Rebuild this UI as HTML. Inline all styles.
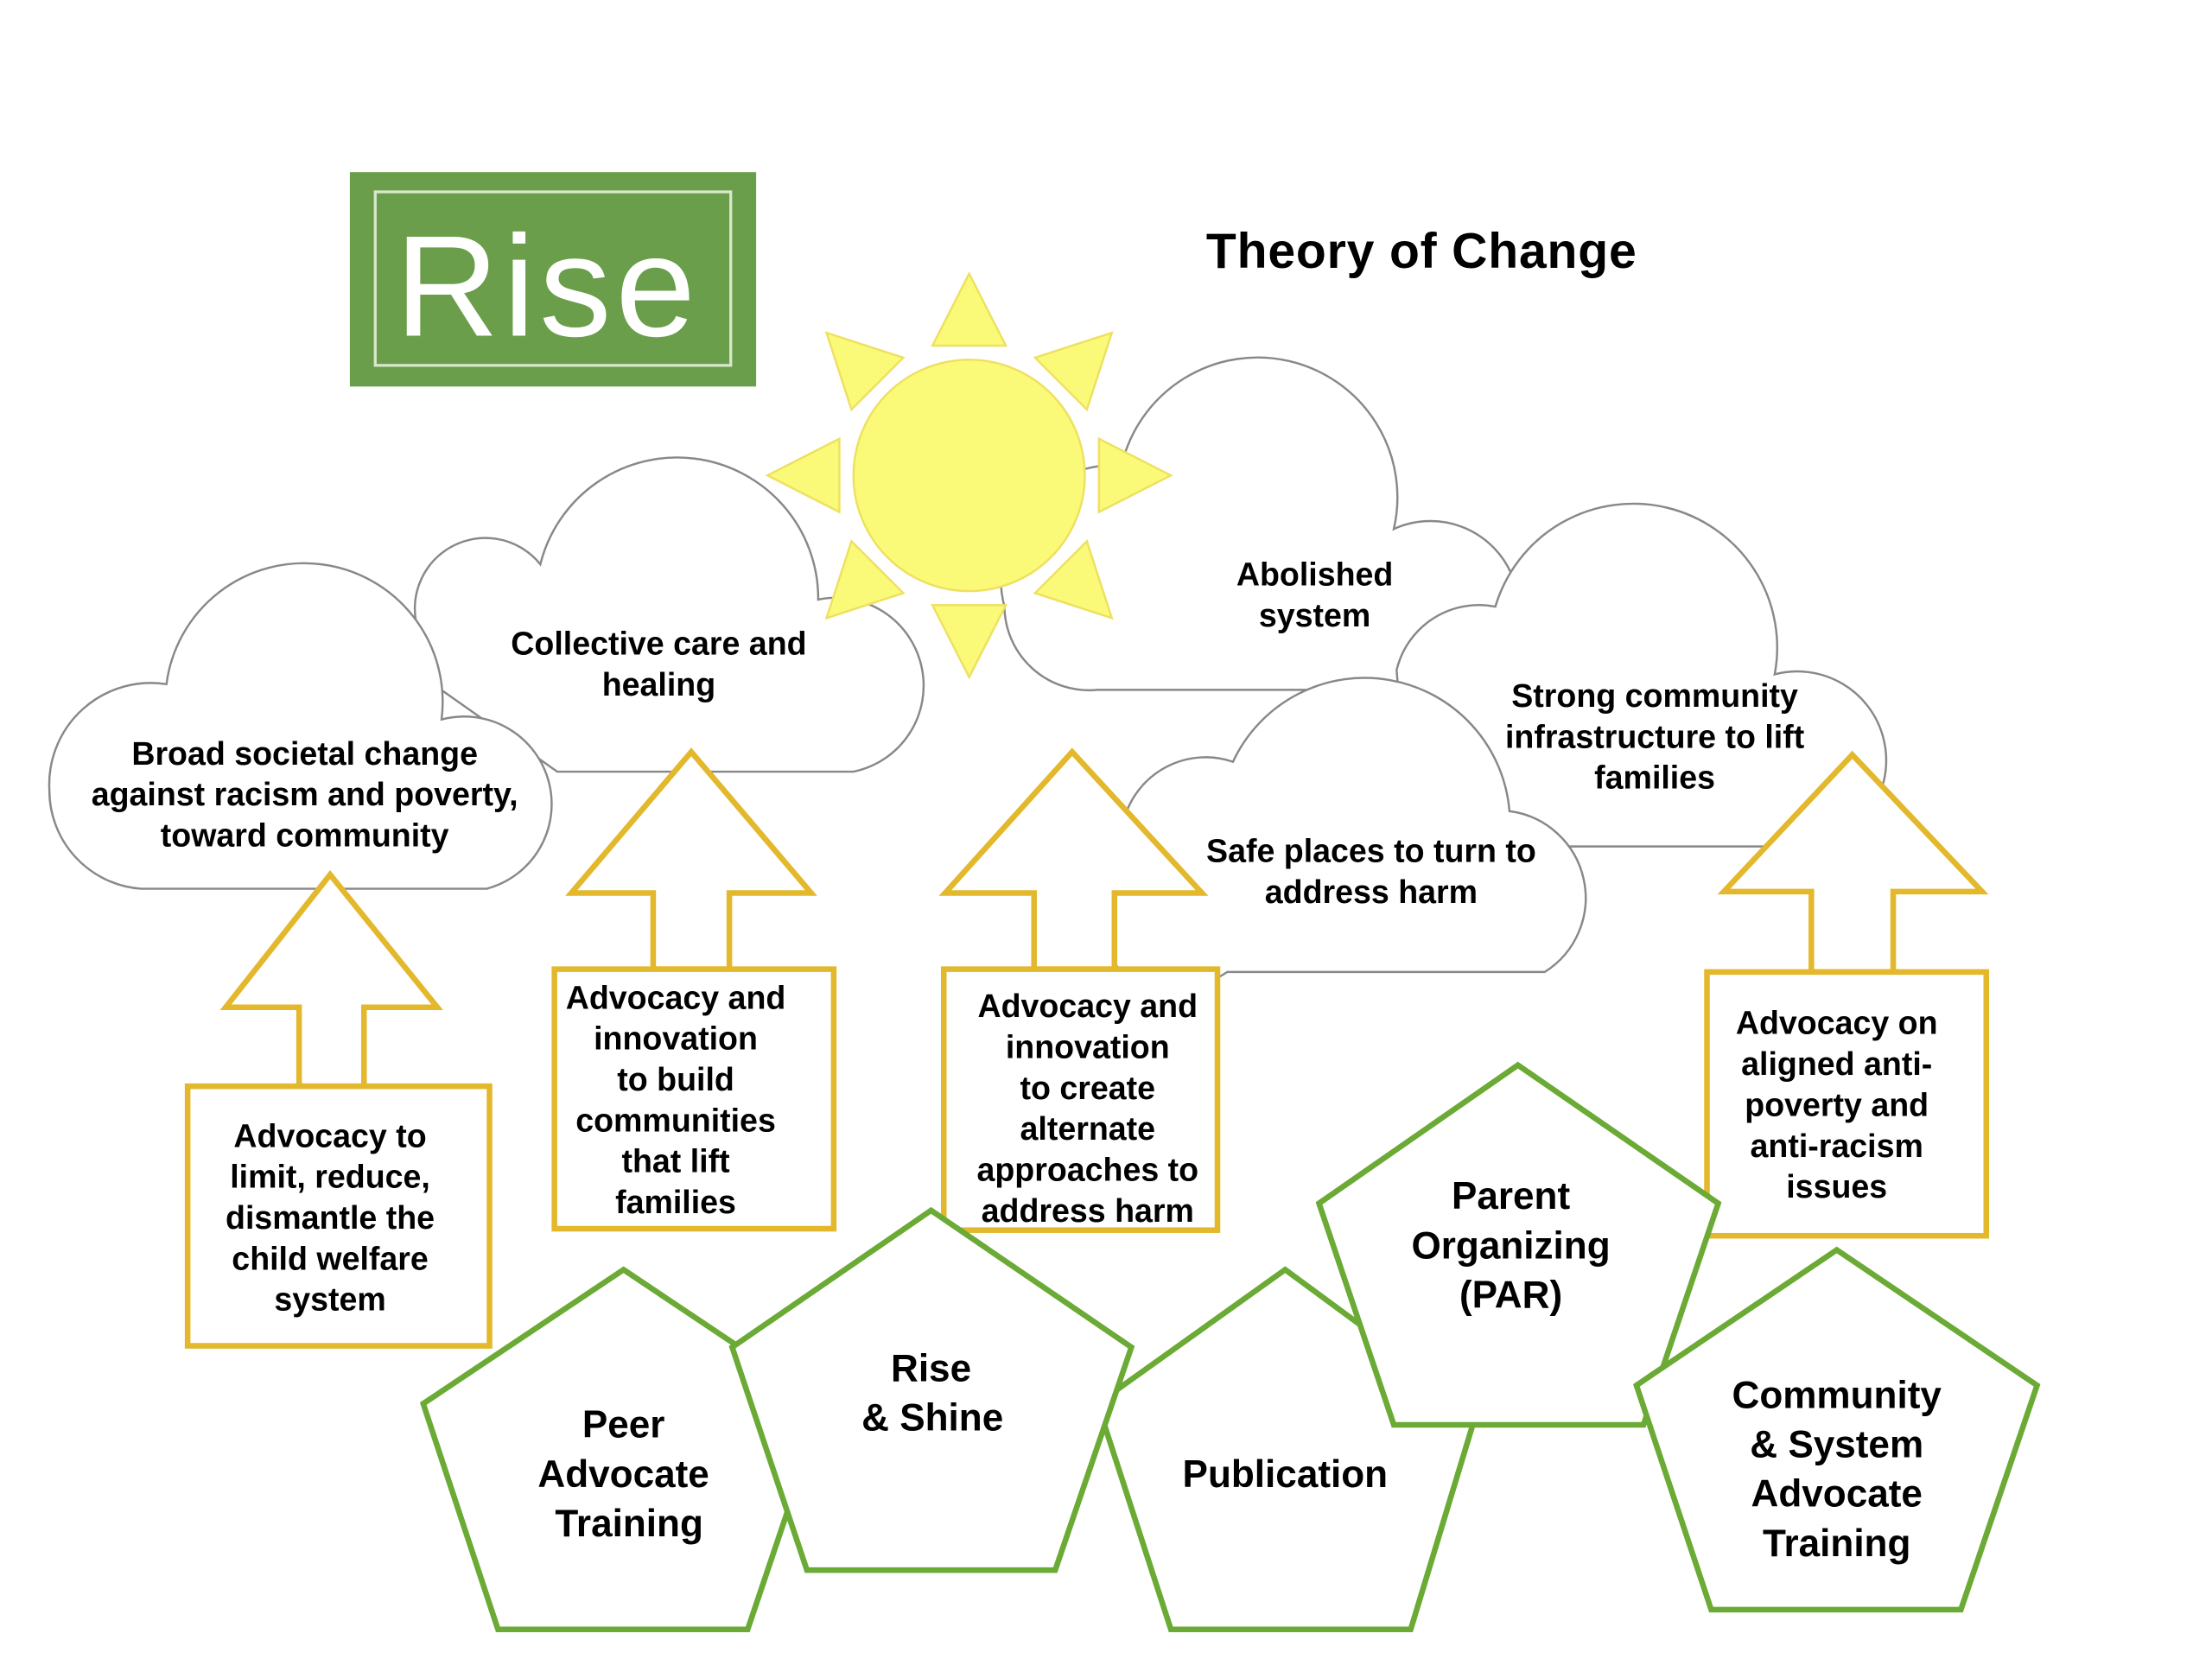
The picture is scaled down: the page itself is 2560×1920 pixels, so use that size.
<!DOCTYPE html>
<html><head><meta charset="utf-8"><style>html,body{margin:0;padding:0;background:#fff}svg{display:block}</style></head>
<body>
<svg width="2560" height="1920" viewBox="0 0 1568 1176" xmlns="http://www.w3.org/2000/svg" font-family="'Liberation Sans', sans-serif" font-weight="bold">
<rect width="1568" height="1176" fill="#fff"/>
<rect x="248" y="122" width="288" height="152" fill="#6a9e4b"/>
<rect x="266" y="136" width="252" height="123" fill="none" stroke="#d8e8cc" stroke-width="2"/>
<text x="280" y="238" font-size="102" font-weight="normal" fill="#fff" letter-spacing="3">Rise</text>
<text x="855" y="190" font-size="35" fill="#000" letter-spacing="0.5">Theory of Change</text>
<g fill="#fff" stroke="#888" stroke-width="1.5">
<path d="M395,547 L605,547 A60,60 0 0 0 580,425 A100,100 0 0 0 383,400 A50,50 0 0 0 300,455 L300,480 Z"/>
<path d="M778,489 L1040,489 A55,55 0 0 0 988,375 A97,97 0 0 0 795,330 A80,80 0 0 0 712,430 A60,60 0 0 0 778,489 Z"/>
<path d="M1150,600 L1290,600 A60,60 0 0 0 1258,478 A102,102 0 0 0 1060,430 A60,60 0 0 0 990,475 L1000,600 Z"/>
<path d="M870,689 L1095,689 A62,62 0 0 0 1070,575 A103,103 0 0 0 874,540 A60,60 0 0 0 797,580 A60,60 0 0 0 870,689 Z"/>
</g>
<g fill="#fafa78" stroke="#eee060" stroke-width="1.5">
<g transform="translate(687,337)">
<polygon points="0,-143 -26,-92 26,-92"/>
<polygon points="0,-143 -26,-92 26,-92" transform="rotate(45)"/>
<polygon points="0,-143 -26,-92 26,-92" transform="rotate(90)"/>
<polygon points="0,-143 -26,-92 26,-92" transform="rotate(135)"/>
<polygon points="0,-143 -26,-92 26,-92" transform="rotate(180)"/>
<polygon points="0,-143 -26,-92 26,-92" transform="rotate(225)"/>
<polygon points="0,-143 -26,-92 26,-92" transform="rotate(270)"/>
<polygon points="0,-143 -26,-92 26,-92" transform="rotate(315)"/>
<circle r="82"/>
</g></g>
<path d="M100,630 L345,630 A58,58 0 0 0 313,510 A98,98 0 0 0 118,485 A72,72 0 0 0 35,560 A70,70 0 0 0 100,630 Z" fill="#fff" stroke="#888" stroke-width="1.5"/>
<g font-size="23" fill="#000" text-anchor="middle">
<text x="216" y="542">Broad societal change</text>
<text x="216" y="571">against racism and poverty,</text>
<text x="216" y="600">toward community</text>
<text x="467" y="464">Collective care and</text>
<text x="467" y="493">healing</text>
<text x="932" y="415">Abolished</text>
<text x="932" y="444">system</text>
<text x="1173" y="501">Strong community</text>
<text x="1173" y="530">infrastructure to lift</text>
<text x="1173" y="559">families</text>
<text x="972" y="611">Safe places to turn to</text>
<text x="972" y="640">address harm</text>
</g>
<g fill="#fff" stroke="#e3b82c" stroke-width="4">
<polygon points="234,620 160,714 212,714 212,770 258,770 258,714 310,714"/>
<rect x="133" y="770" width="214" height="184"/>
<polygon points="490,533 405,633 463,633 463,687 517,687 517,633 575,633"/>
<rect x="393" y="687" width="198" height="184"/>
<polygon points="760,533 670,633 733,633 733,687 790,687 790,633 852,633"/>
<rect x="669" y="687" width="194" height="185"/>
<polygon points="1313,535 1222,632 1284,632 1284,689 1342,689 1342,632 1405,632"/>
<rect x="1210" y="689" width="198" height="187"/>
</g>
<g font-size="23" fill="#000" text-anchor="middle">
<text x="234" y="813">Advocacy to</text>
<text x="234" y="842">limit, reduce,</text>
<text x="234" y="871">dismantle the</text>
<text x="234" y="900">child welfare</text>
<text x="234" y="929">system</text>
<text x="479" y="715">Advocacy and</text>
<text x="479" y="744">innovation</text>
<text x="479" y="773">to build</text>
<text x="479" y="802">communities</text>
<text x="479" y="831">that lift</text>
<text x="479" y="860">families</text>
<text x="771" y="721">Advocacy and</text>
<text x="771" y="750">innovation</text>
<text x="771" y="779">to create</text>
<text x="771" y="808">alternate</text>
<text x="771" y="837">approaches to</text>
<text x="771" y="866">address harm</text>
<text x="1302" y="733">Advocacy on</text>
<text x="1302" y="762">aligned anti-</text>
<text x="1302" y="791">poverty and</text>
<text x="1302" y="820">anti-racism</text>
<text x="1302" y="849">issues</text>
</g>
<g fill="#fff" stroke="#6aaa35" stroke-width="4">
<polygon points="442,900 584,995 530,1155 353,1155 300,995"/>
<polygon points="911,900 1047,1000 1000,1155 830,1155 778,995"/>
<polygon points="660,858 802,955 748,1113 572,1113 519,955"/>
<polygon points="1076,755 1218,853 1165,1010 988,1010 935,853"/>
<polygon points="1302,886 1444,982 1390,1141 1213,1141 1160,982"/>
</g>
<g font-size="27" fill="#000" text-anchor="middle">
<text x="442" y="1019">Peer</text>
<text x="442" y="1054">Advocate</text>
<text x="446" y="1089">Training</text>
<text x="660" y="979">Rise</text>
<text x="661" y="1014">&amp; Shine</text>
<text x="911" y="1054">Publication</text>
<text x="1071" y="857">Parent</text>
<text x="1071" y="892">Organizing</text>
<text x="1071" y="927">(PAR)</text>
<text x="1302" y="998">Community</text>
<text x="1302" y="1033">&amp; System</text>
<text x="1302" y="1068">Advocate</text>
<text x="1302" y="1103">Training</text>
</g>
</svg>
</body></html>
